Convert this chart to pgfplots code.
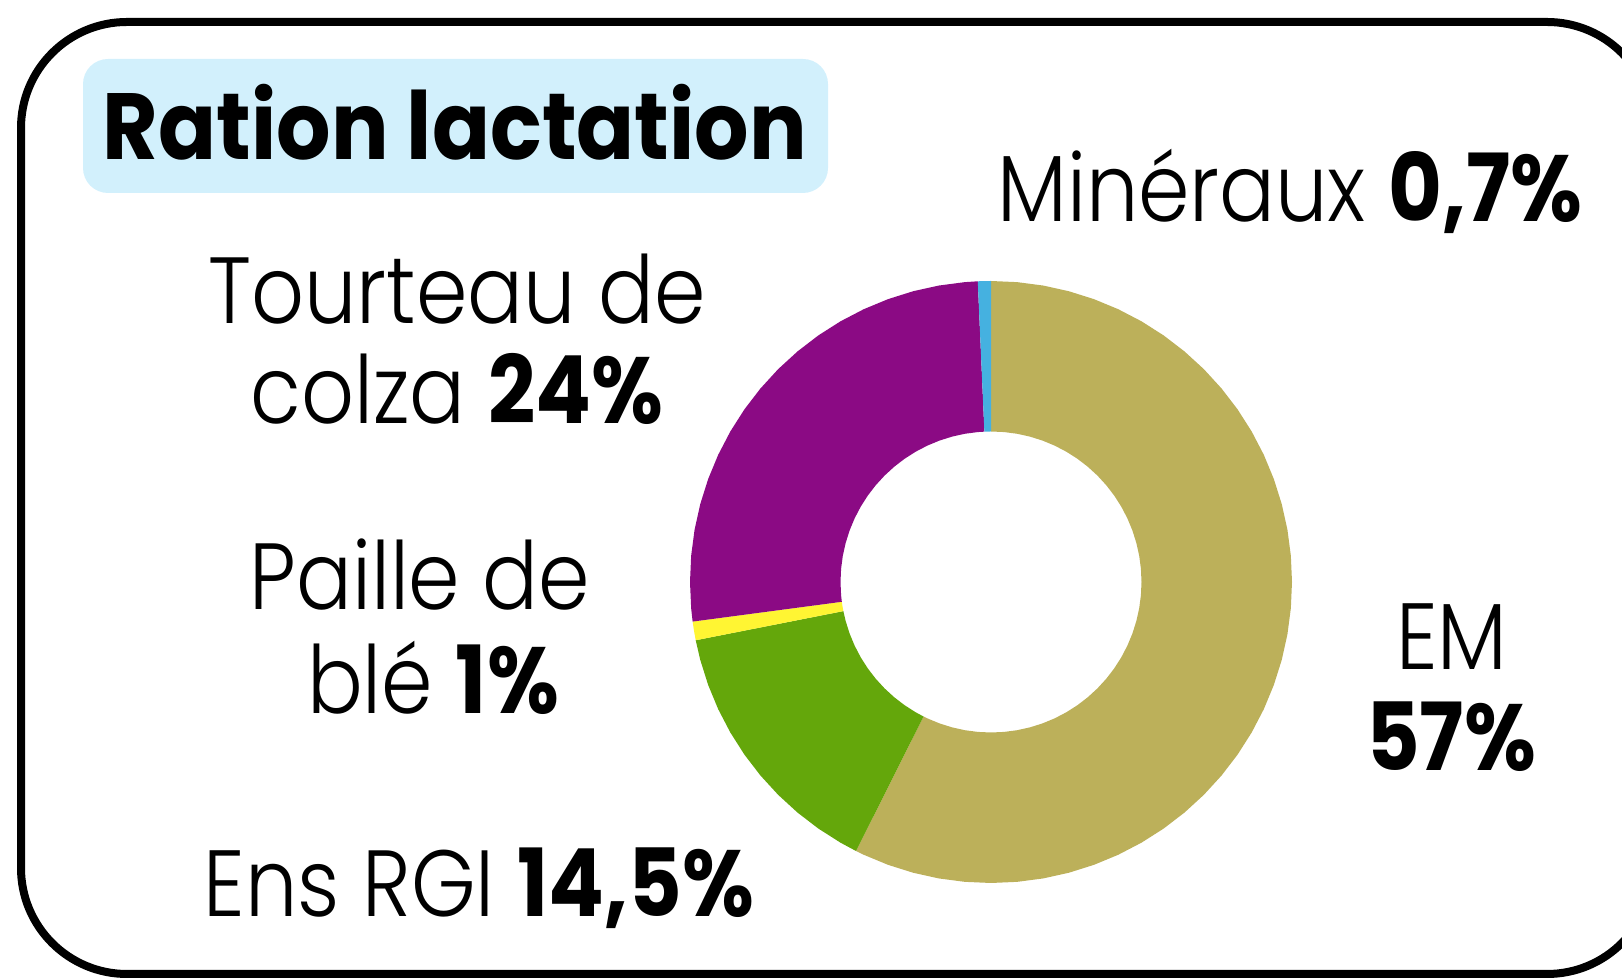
\documentclass[border=0pt]{standalone}
\usepackage{pgfplots}
\pgfplotsset{compat=1.18}
\usepgfplotslibrary{polar}
\usepackage{fontspec}
\setmainfont{Poppins}[UprightFont=* Light, BoldFont=* Bold, FakeStretch=0.88]
\newfontfamily\titlefont{Poppins}[FakeStretch=0.91]
\definecolor{emcol}{HTML}{BCB05A}
\definecolor{rgicol}{HTML}{64A70B}
\definecolor{pailcol}{HTML}{FFF533}
\definecolor{tourcol}{HTML}{8B0A84}
\definecolor{mincol}{HTML}{45B1E0}
\definecolor{titlebg}{HTML}{D2F0FC}
\begin{document}
\begin{tikzpicture}[x=0.5pt,y=0.5pt]
\useasboundingbox (0,0) rectangle (1622,978);
\clip (0,0) rectangle (1622,978);
% frame
\draw[line width=4pt, rounded corners=53pt] (21,956) rectangle (1653,4);
% title box
\fill[titlebg, rounded corners=12.5pt] (83,785) rectangle (828,919);
\node[anchor=base, inner sep=0pt, font=\titlefont\fontsize{47}{50}\selectfont\bfseries] at (455,818) {Ration lactation};
% Shares (%): EM 57.4, Ens RGI 14.5, Paille 1.0, Tourteau 26.4, Mineraux 0.7 (clockwise from top)
\begin{polaraxis}[at={(495.5pt,198pt)}, anchor=center, scale only axis, width=301pt, height=301pt,
  hide axis, ymin=0, ymax=1, clip=false]
% EM 57.4%
\addplot[fill=emcol, draw=none] coordinates {
(-116.64,1) (-115,1) (-110,1) (-105,1) (-100,1) (-95,1) (-90,1) (-85,1) (-80,1) (-75,1) (-70,1) (-65,1) (-60,1) (-55,1) (-50,1) (-45,1) (-40,1) (-35,1) (-30,1) (-25,1) (-20,1) (-15,1) (-10,1) (-5,1) (0,1) (5,1) (10,1) (15,1) (20,1) (25,1) (30,1) (35,1) (40,1) (45,1) (50,1) (55,1) (60,1) (65,1) (70,1) (75,1) (80,1) (85,1) (90,1)
(90,0.5) (85,0.5) (80,0.5) (75,0.5) (70,0.5) (65,0.5) (60,0.5) (55,0.5) (50,0.5) (45,0.5) (40,0.5) (35,0.5) (30,0.5) (25,0.5) (20,0.5) (15,0.5) (10,0.5) (5,0.5) (0,0.5) (-5,0.5) (-10,0.5) (-15,0.5) (-20,0.5) (-25,0.5) (-30,0.5) (-35,0.5) (-40,0.5) (-45,0.5) (-50,0.5) (-55,0.5) (-60,0.5) (-65,0.5) (-70,0.5) (-75,0.5) (-80,0.5) (-85,0.5) (-90,0.5) (-95,0.5) (-100,0.5) (-105,0.5) (-110,0.5) (-115,0.5) (-116.64,0.5)
};
% Ens RGI 14.5%
\addplot[fill=rgicol, draw=none] coordinates {
(191.16,1) (195,1) (200,1) (205,1) (210,1) (215,1) (220,1) (225,1) (230,1) (235,1) (240,1) (243.36,1)
(243.36,0.5) (240,0.5) (235,0.5) (230,0.5) (225,0.5) (220,0.5) (215,0.5) (210,0.5) (205,0.5) (200,0.5) (195,0.5) (191.16,0.5)
};
% Paille de ble 1%
\addplot[fill=pailcol, draw=none] coordinates {
(187.56,1) (189.36,1) (191.16,1) (191.16,0.5) (189.36,0.5) (187.56,0.5)
};
% Tourteau de colza 26.4%
\addplot[fill=tourcol, draw=none] coordinates {
(92.52,1) (95,1) (100,1) (105,1) (110,1) (115,1) (120,1) (125,1) (130,1) (135,1) (140,1) (145,1) (150,1) (155,1) (160,1) (165,1) (170,1) (175,1) (180,1) (185,1) (187.56,1)
(187.56,0.5) (185,0.5) (180,0.5) (175,0.5) (170,0.5) (165,0.5) (160,0.5) (155,0.5) (150,0.5) (145,0.5) (140,0.5) (135,0.5) (130,0.5) (125,0.5) (120,0.5) (115,0.5) (110,0.5) (105,0.5) (100,0.5) (95,0.5) (92.52,0.5)
};
% Mineraux 0.7%
\addplot[fill=mincol, draw=none] coordinates {
(90,1) (91.26,1) (92.52,1) (92.52,0.5) (91.26,0.5) (90,0.5)
};
\end{polaraxis}
% labels
\begin{scope}[every node/.style={anchor=base, inner sep=0pt, font=\fontsize{47}{50}\selectfont}]
\node at (1290,756) {Minéraux \textbf{0,7\%}};
\node at (457,654) {Tourteau de};
\node at (457,554) {colza \textbf{24\%}};
\node at (420,368) {Paille de};
\node at (433,264) {blé \textbf{1\%}};
\node at (479,61) {Ens RGI \textbf{14,5\%}};
\node at (1452,308) {EM};
\node at (1451,207) {\textbf{57\%}};
\end{scope}
\end{tikzpicture}
\end{document}
